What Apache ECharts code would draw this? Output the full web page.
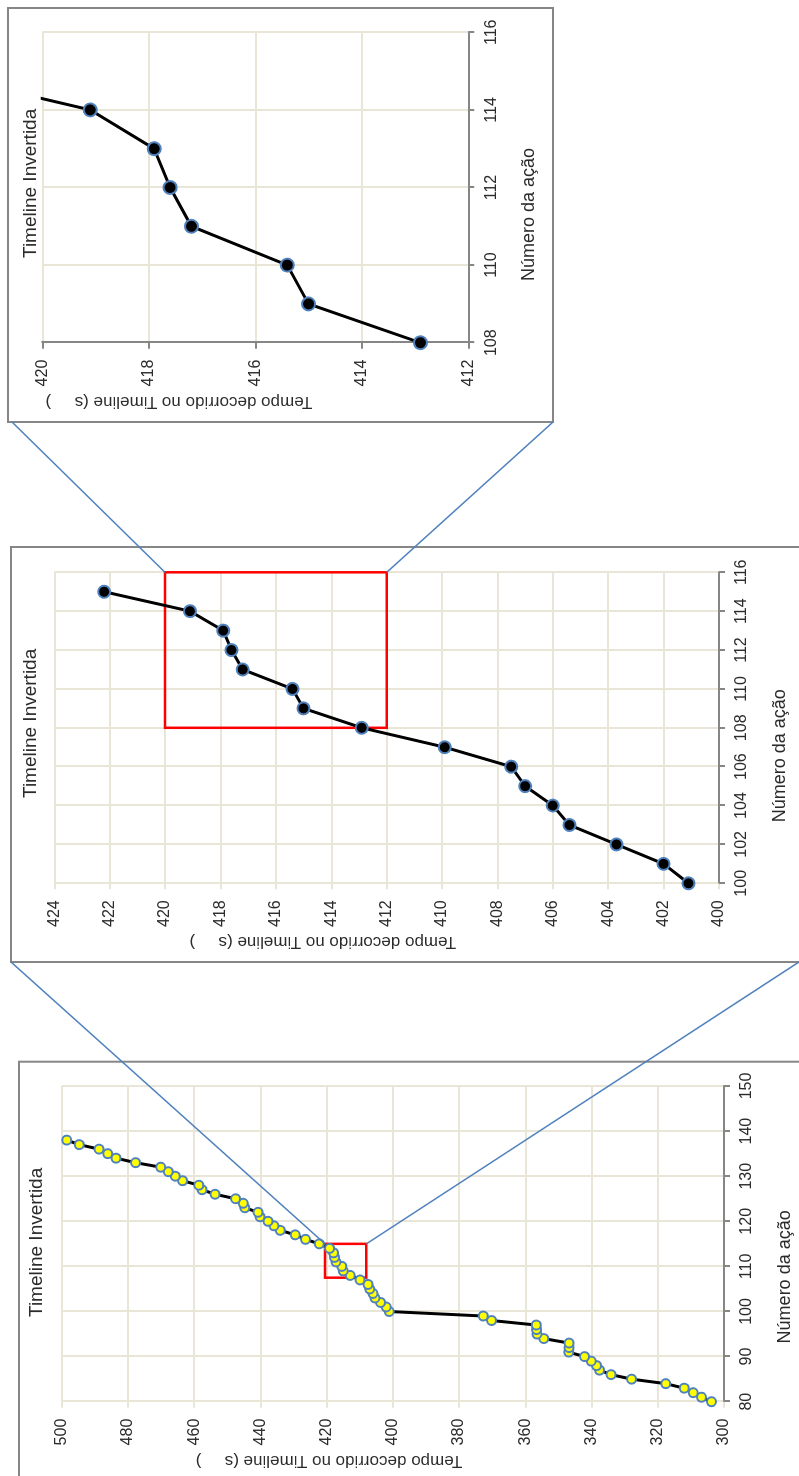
<!DOCTYPE html>
<html>
<head>
<meta charset="utf-8">
<script src="https://cdn.jsdelivr.net/npm/echarts@6/dist/echarts.min.js"></script>
<style>
  html, body { margin: 0; padding: 0; width: 799px; height: 1476px; overflow: hidden; background: #fff; }
  /* The figure is laid out landscape and turned a quarter turn counter-clockwise */
  #chart { position: absolute; left: 0; top: 0; width: 1476px; height: 799px;
           transform-origin: 0 0; transform: translateY(1476px) rotate(-90deg); }
</style>
</head>
<body>
<div id="chart"></div>
<script>
// Action number (x) and elapsed time on the timeline in seconds (y)
const actions = [80, 81, 82, 83, 84, 85, 86, 87, 88, 89,
                 90, 91, 92, 93, 94, 95, 96, 97, 98, 99,
                 100, 101, 102, 103, 104, 105, 106, 107, 108, 109,
                 110, 111, 112, 113, 114, 115, 116, 117, 118, 119,
                 120, 121, 122, 123, 124, 125, 126, 127, 128, 129,
                 130, 131, 132, 133, 134, 135, 136, 137, 138];
const elapsed = [303.8, 306.8, 309.3, 312.0, 317.6, 327.9, 334.1, 337.6, 338.5, 340.1,
                 342.1, 346.9, 346.8, 346.8, 354.4, 356.5, 356.6, 356.7, 370.2, 372.7,
                 401.1, 402.0, 403.7, 405.4, 406.0, 407.0, 407.5, 409.9, 412.9, 415.0,
                 415.4, 417.2, 417.6, 417.9, 419.1, 422.2, 426.4, 429.5, 434.0, 435.9,
                 437.7, 440.1, 440.7, 444.7, 445.2, 447.5, 453.7, 457.6, 458.6, 463.5,
                 465.7, 467.8, 470.1, 477.7, 483.6, 486.1, 488.7, 494.7, 498.5];

// Actions plotted in each panel: [first, last]
const panelSpans = [[80, 138], [100, 115], [108, 115]];

// Axis ranges per panel: [min, max, interval]
const xRanges = [[80, 150, 10], [100, 116, 2], [108, 116, 2]];
const yRanges = [[300, 500, 20], [400, 424, 2], [412, 420, 2]];

// Zoomed regions marked in red: [[xMin, yMin], [xMax, yMax]]
const zoomBox1 = [[107.5, 408], [115, 420.5]];
const zoomBox2 = [[108, 412], [116, 420]];

// Texts
const chartTitle = 'Timeline Invertida';
const xName = 'Número da ação';
const yName = 'Tempo decorrido no Timeline (s     )';

// Layout (pixels, landscape frame)
const grids = [
  { left: 74.3,   top: 61.7, width: 315.7, height: 665 },
  { left: 592.7,  top: 54.3, width: 311,   height: 664.7 },
  { left: 1133.3, top: 42.3, width: 310.4, height: 426 }
];
const frames = [[-10, 19, 424.3, 820], [514, 11, 415, 820], [1054, 8, 414, 545]];
const titlePos = [[159, 27], [678, 21], [1218, 21]];
const yNameShift = [128, 128, 153];
const xNameShift = [66, 56, 54];

const FONT = '"Liberation Sans", Arial, sans-serif';
const GRID_C = '#e9e6d7';
const AXIS_C = '#868686';
const TEXT_C = '#2b2b2b';

const panelData = panelSpans.map(s =>
  actions.map((a, i) => [a, elapsed[i]]).filter(d => d[0] >= s[0] && d[0] <= s[1]));

const xAxes = xRanges.map((r, i) => ({
  type: 'value', gridIndex: i, min: r[0], max: r[1], interval: r[2],
  axisLine: { show: true, lineStyle: { color: AXIS_C, width: 2 } },
  axisTick: { show: true, length: 6, lineStyle: { color: AXIS_C, width: 2 } },
  axisLabel: { fontSize: 16, color: TEXT_C, fontFamily: FONT, margin: 15 },
  splitLine: { show: true, lineStyle: { color: GRID_C, width: 2 } },
  name: xName, nameLocation: 'middle', nameGap: 52,
  nameTextStyle: { fontSize: 18, color: TEXT_C, fontFamily: FONT, padding: [0, xNameShift[i], 0, 0] }
}));

const yAxes = yRanges.map((r, i) => ({
  type: 'value', gridIndex: i, min: r[0], max: r[1], interval: r[2],
  axisLine: { show: i === 2, lineStyle: { color: AXIS_C, width: 2 } },
  axisTick: { show: true, length: 6, lineStyle: { color: i === 2 ? AXIS_C : GRID_C, width: 2 } },
  axisLabel: { fontSize: 16, color: TEXT_C, fontFamily: FONT, margin: 17 },
  splitLine: { show: true, lineStyle: { color: GRID_C, width: 2 } },
  name: yName, nameLocation: 'middle', nameGap: 50,
  nameTextStyle: { fontSize: 17, color: TEXT_C, fontFamily: FONT, padding: [0, 0, 0, yNameShift[i]] }
}));

const boxArea = (b) => ({
  silent: true,
  itemStyle: { color: 'rgba(0,0,0,0)', borderColor: '#ff0000', borderWidth: 2.5 },
  data: [[{ coord: b[0] }, { coord: b[1] }]]
});

const series = [
  {
    type: 'line', xAxisIndex: 0, yAxisIndex: 0, data: panelData[0], clip: true,
    symbol: 'circle', symbolSize: 9,
    itemStyle: { color: '#ffff00', borderColor: '#4f81bd', borderWidth: 2 },
    lineStyle: { color: '#000', width: 3 },
    markArea: boxArea(zoomBox1)
  },
  {
    type: 'line', xAxisIndex: 1, yAxisIndex: 1, data: panelData[1], clip: true,
    symbol: 'circle', symbolSize: 12,
    itemStyle: { color: '#000', borderColor: '#4f81bd', borderWidth: 2 },
    lineStyle: { color: '#000', width: 3 },
    markArea: boxArea(zoomBox2)
  },
  {
    type: 'line', xAxisIndex: 2, yAxisIndex: 2, data: panelData[2], clip: true,
    symbol: 'circle', symbolSize: 13,
    itemStyle: { color: '#000', borderColor: '#4f81bd', borderWidth: 2 },
    lineStyle: { color: '#000', width: 3 }
  }
];

const chart = echarts.init(document.getElementById('chart'), null, { renderer: 'canvas' });
chart.setOption({
  animation: false,
  backgroundColor: '#fff',
  title: titlePos.map(p => ({
    text: chartTitle, left: p[0], top: p[1], padding: 0,
    textStyle: { fontSize: 19, fontWeight: 'normal', color: TEXT_C, fontFamily: FONT }
  })),
  grid: grids,
  xAxis: xAxes,
  yAxis: yAxes,
  series: series
});

// Chart-area frames and the connector lines from each zoom box to the next panel
const px = (g, pt) => chart.convertToPixel({ gridIndex: g }, pt);
const graphics = frames.map(f => ({
  type: 'rect', shape: { x: f[0], y: f[1], width: f[2], height: f[3] },
  style: { fill: 'none', stroke: AXIS_C, lineWidth: 2 }, z: 1, silent: true
}));
const link = (a, b) => ({
  type: 'line', shape: { x1: a[0], y1: a[1], x2: b[0], y2: b[1] },
  style: { stroke: '#4f81bd', lineWidth: 1.5 }, z: 100, silent: true
});
const b1Top = px(0, [zoomBox1[1][0], zoomBox1[1][1]]);
const b1Bot = px(0, [zoomBox1[1][0], zoomBox1[0][1]]);
const b2Top = px(1, [zoomBox2[1][0], zoomBox2[1][1]]);
const b2Bot = px(1, [zoomBox2[1][0], zoomBox2[0][1]]);
graphics.push(link(b1Top, [frames[1][0], frames[1][1]]));
graphics.push(link(b1Bot, [frames[1][0], 799]));
graphics.push(link(b2Top, [frames[2][0], frames[2][1] + 4]));
graphics.push(link(b2Bot, [frames[2][0], frames[2][1] + frames[2][3]]));
chart.setOption({ graphic: graphics });
</script>
</body>
</html>
